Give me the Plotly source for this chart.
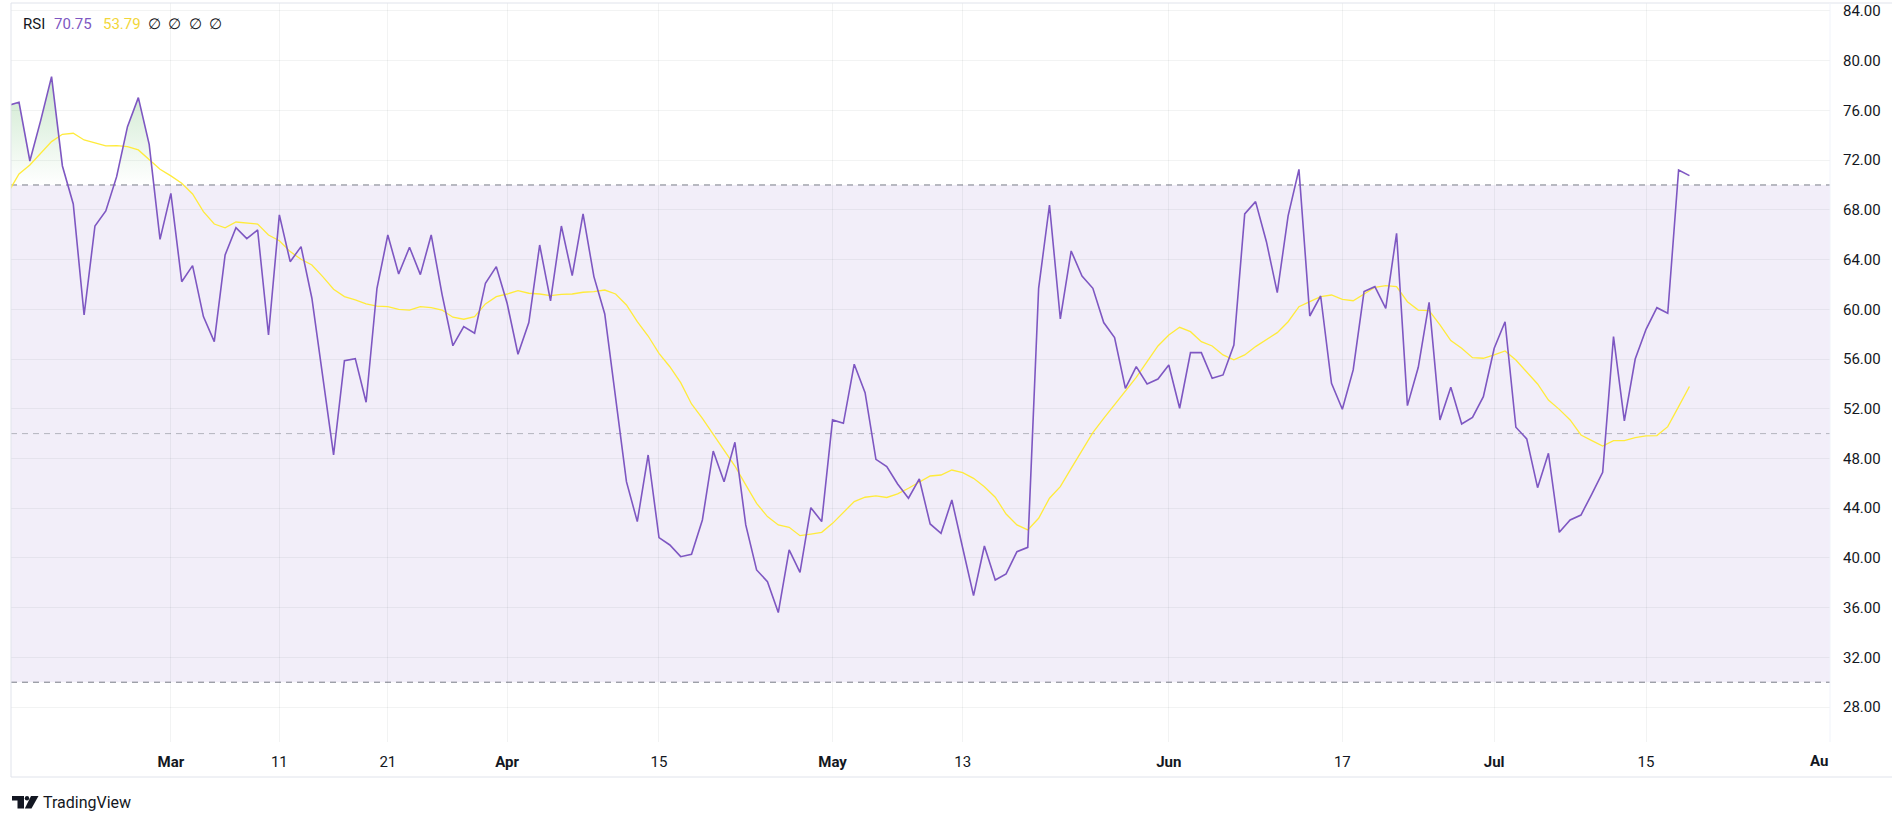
import pandas as pd
import plotly.graph_objects as go

# ---------------- data ----------------
start_date = "2024-02-15"
end_date = "2024-07-19"

rsi = [
    # Feb 15 - Feb 29
    76.4, 76.65, 71.93, 75.2, 78.72, 71.53, 68.47, 59.54, 66.7, 67.91, 70.67, 74.69, 77.03, 73.27, 65.63,
    # Mar
    69.33, 62.22, 63.51, 59.41, 57.4, 64.37, 66.57, 65.68, 66.38, 57.93, 67.59, 63.83, 65.04, 60.89, 54.8,
    48.28, 55.87, 56.03, 52.52, 61.69, 65.98, 62.84, 64.99, 62.79, 65.98, 61.2, 57.07, 58.6, 58.07, 62.1, 63.43,
    # Apr
    60.48, 56.38, 58.93, 65.17, 60.67, 66.7, 62.71, 67.67, 62.63, 59.62, 52.97, 46.13, 42.92, 48.28, 41.63,
    41.04, 40.1, 40.29, 43.05, 48.6, 46.13, 49.3, 42.65, 39.03, 38.09, 35.6, 40.64, 38.84, 44.04, 42.92,
    # May
    51.1, 50.83, 55.58, 53.29, 47.93, 47.34, 45.95, 44.8, 46.35, 42.73, 41.98, 44.66, 40.8, 36.96, 40.96,
    38.22, 38.71, 40.5, 40.85, 61.69, 68.39, 59.22, 64.69, 62.68, 61.69, 58.93, 57.72, 53.64, 55.39, 53.99, 54.39,
    # Jun
    55.52, 52.04, 56.51, 56.51, 54.45, 54.72, 57.13, 67.67, 68.66, 65.44, 61.34, 67.51, 71.26, 59.46, 61.07,
    54.05, 51.96, 55.12, 61.42, 61.82, 60.08, 66.11, 52.25, 55.33, 60.56, 51.1, 53.72, 50.77, 51.31, 52.97,
    # Jul 1 - Jul 19
    56.86, 59.0, 50.51, 49.57, 45.65, 48.42, 42.06, 43.05, 43.45, 45.14, 46.89, 57.8, 51.02, 56.0, 58.39,
    60.13, 59.68, 71.21, 70.75,
]

rsi_ma = [
    # Feb 15 - Feb 29
    69.4, 70.89, 71.61, 72.55, 73.49, 74.08, 74.16, 73.62, 73.41, 73.14, 73.17, 73.09, 72.82, 72.01, 71.26,
    # Mar
    70.73, 70.14, 69.28, 67.85, 66.86, 66.56, 67.02, 66.97, 66.86, 65.98, 65.52, 64.64, 64.02, 63.56, 62.63,
    61.61, 61.02, 60.75, 60.43, 60.26, 60.21, 60.0, 59.94, 60.21, 60.13, 59.94, 59.36, 59.2, 59.41, 60.43, 61.02,
    # Apr
    61.23, 61.5, 61.29, 61.23, 61.1, 61.2, 61.23, 61.37, 61.42, 61.55, 61.23, 60.35, 59.0, 57.85, 56.46,
    55.38, 54.1, 52.38, 51.23, 49.97, 48.68, 47.39, 45.87, 44.39, 43.32, 42.65, 42.46, 41.79, 41.92, 42.06,
    # May
    42.78, 43.64, 44.53, 44.88, 44.99, 44.86, 45.15, 45.6, 46.13, 46.59, 46.67, 47.07, 46.86, 46.4, 45.73,
    44.88, 43.53, 42.65, 42.25, 43.19, 44.8, 45.73, 47.2, 48.63, 50.08, 51.23, 52.3, 53.37, 54.53, 55.79, 57.05,
    # Jun
    57.93, 58.55, 58.2, 57.4, 57.05, 56.33, 55.93, 56.33, 57.0, 57.59, 58.12, 59.0, 60.21, 60.61, 61.02,
    61.15, 60.8, 60.69, 61.23, 61.77, 61.9, 61.82, 60.61, 59.94, 59.89, 58.74, 57.48, 56.86, 56.11, 56.06,
    # Jul 1 - Jul 19
    56.33, 56.65, 55.92, 54.98, 53.99, 52.7, 51.95, 51.1, 49.89, 49.44, 49.0, 49.44, 49.44, 49.68, 49.81,
    49.84, 50.56, 52.17, 53.79,
]

x_tick_dates = ["2024-03-01", "2024-03-11", "2024-03-21", "2024-04-01", "2024-04-15", "2024-05-01",
                "2024-05-13", "2024-06-01", "2024-06-17", "2024-07-01", "2024-07-15"]
x_tick_labels = ["Mar", "11", "21", "Apr", "15", "May", "13", "Jun", "17", "Jul", "15"]
month_labels = {"Mar", "Apr", "May", "Jun", "Jul"}
y_tick_values = [28, 32, 36, 40, 44, 48, 52, 56, 60, 64, 68, 72, 76, 80, 84]

overbought = 70
middle = 50
oversold = 30

# ---------------- styling ----------------
W, H = 1892, 818
PL, PR, PT, PB = 11, 1830, 3, 742          # pane edges in pixels
RSI_COLOR = "#7E57C2"
MA_COLOR = "#FFEB3B"
TEXT = "#131722"
GRID = "rgba(42,46,57,0.06)"
FRAME = "#E0E3EB"
FONT = "Roboto, 'Trebuchet MS', sans-serif"


def px(x):
    return (x - PL) / (PR - PL)


def py(y):
    return (PB - y) / (PB - PT)


dates = pd.date_range(start_date, end_date, freq="D")
assert len(dates) == len(rsi) == len(rsi_ma), (len(dates), len(rsi), len(rsi_ma))

# overbought fill region (RSI above 70), with crossing points
ob_x, ob_y = [], []
for i in range(len(rsi)):
    ob_x.append(dates[i])
    ob_y.append(max(rsi[i], overbought))
    if i < len(rsi) - 1 and (rsi[i] - overbought) * (rsi[i + 1] - overbought) < 0:
        f = (overbought - rsi[i]) / (rsi[i + 1] - rsi[i])
        ob_x.append(dates[i] + (dates[i + 1] - dates[i]) * f)
        ob_y.append(overbought)

fig = go.Figure()

fig.add_trace(go.Scatter(x=ob_x, y=[overbought] * len(ob_x), mode="lines",
                         line=dict(width=0, color="rgba(0,0,0,0)"), hoverinfo="skip", showlegend=False))
fig.add_trace(go.Scatter(x=ob_x, y=ob_y, mode="lines", fill="tonexty",
                         fillgradient=dict(type="vertical", start=overbought, stop=100,
                                           colorscale=[[0, "rgba(76,175,80,0)"], [1, "rgba(76,175,80,1)"]]),
                         line=dict(width=0, color="rgba(0,0,0,0)"), hoverinfo="skip", showlegend=False))

fig.add_trace(go.Scatter(x=dates, y=rsi_ma, mode="lines", line=dict(color=MA_COLOR, width=1.3),
                         name="RSI-based MA", showlegend=False))
fig.add_trace(go.Scatter(x=dates, y=rsi, mode="lines", line=dict(color=RSI_COLOR, width=1.6),
                         name="RSI", showlegend=False))

shapes = [
    # band
    dict(type="rect", xref="paper", yref="y", x0=0, x1=1, y0=oversold, y1=overbought,
         fillcolor="rgba(126,87,194,0.1)", line=dict(width=0), layer="below"),
    dict(type="line", xref="paper", yref="y", x0=0, x1=1, y0=overbought, y1=overbought,
         line=dict(color="#787B86", width=1, dash="6px,5px"), layer="below"),
    dict(type="line", xref="paper", yref="y", x0=0, x1=1, y0=middle, y1=middle,
         line=dict(color="rgba(120,123,134,0.5)", width=1, dash="6px,5px"), layer="below"),
    dict(type="line", xref="paper", yref="y", x0=0, x1=1, y0=oversold, y1=oversold,
         line=dict(color="#787B86", width=1, dash="6px,5px"), layer="below"),
    # frame
    dict(type="line", xref="paper", yref="paper", x0=0, x1=px(W), y0=py(PT), y1=py(PT),
         line=dict(color=FRAME, width=1)),
    dict(type="line", xref="paper", yref="paper", x0=0, x1=0, y0=py(777), y1=py(PT),
         line=dict(color=FRAME, width=1)),
    dict(type="line", xref="paper", yref="paper", x0=0, x1=px(W), y0=py(777), y1=py(777),
         line=dict(color=FRAME, width=1)),
    dict(type="line", xref="paper", yref="paper", x0=1, x1=1, y0=0, y1=1,
         line=dict(color="#F0F3FA", width=1)),
]

# TradingView logo (decoration)
def poly(points):
    return "M " + " L ".join(f"{px(a)},{py(b)}" for a, b in points) + " Z"

shapes += [
    dict(type="path", xref="paper", yref="paper", path=poly([(12, 796), (24, 796), (24, 808.5), (17.5, 808.5), (17.5, 800.5), (12, 800.5)]),
         fillcolor=TEXT, line=dict(width=0)),
    dict(type="circle", xref="paper", yref="paper", x0=px(24.8), x1=px(29.2), y0=py(800.5), y1=py(796),
         fillcolor=TEXT, line=dict(width=0)),
    dict(type="path", xref="paper", yref="paper", path=poly([(31, 796), (38.5, 796), (31.5, 808.5), (24.8, 808.5)]),
         fillcolor=TEXT, line=dict(width=0)),
]

annotations = [
    dict(xref="paper", yref="paper", x=px(21), y=py(24), xanchor="left", yanchor="middle",
         text="RSI", showarrow=False, font=dict(family=FONT, size=15, color=TEXT)),
    dict(xref="paper", yref="paper", x=px(52), y=py(24), xanchor="left", yanchor="middle",
         text=f"{rsi[-1]:.2f}", showarrow=False, font=dict(family=FONT, size=15, color=RSI_COLOR)),
    dict(xref="paper", yref="paper", x=px(101), y=py(24), xanchor="left", yanchor="middle",
         text=f"{rsi_ma[-1]:.2f}", showarrow=False, font=dict(family=FONT, size=15, color="#F2D63A")),
]
for k, xp in enumerate([154.5, 174.5, 195, 215]):
    annotations.append(dict(xref="paper", yref="paper", x=px(xp), y=py(24), xanchor="center", yanchor="middle",
                            text="∅", showarrow=False, font=dict(family=FONT, size=15, color=TEXT)))
annotations += [
    dict(xref="paper", yref="paper", x=1, y=py(761), xanchor="right", yanchor="middle",
         text="<b>Au</b>", showarrow=False, font=dict(family=FONT, size=15, color=TEXT)),
    dict(xref="paper", yref="paper", x=px(41), y=py(802.5), xanchor="left", yanchor="middle",
         text="TradingView", showarrow=False, font=dict(family=FONT, size=16, color=TEXT)),
]

fig.update_layout(
    width=W, height=H,
    margin=dict(l=PL, r=W - PR, t=PT, b=H - PB, pad=0),
    paper_bgcolor="white", plot_bgcolor="white",
    showlegend=False,
    shapes=shapes, annotations=annotations,
    xaxis=dict(type="date", range=["2024-02-15 06:15", "2024-07-31 23:00"],
               tickvals=x_tick_dates,
               ticktext=[f"<b>{t}</b>" if t in month_labels else t for t in x_tick_labels],
               showgrid=True, gridcolor=GRID, gridwidth=1, zeroline=False, showline=False,
               ticks="", ticklabelstandoff=9,
               tickfont=dict(family=FONT, size=15, color=TEXT), fixedrange=True),
    yaxis=dict(side="right", range=[25.19, 84.64], tickvals=y_tick_values,
               ticktext=[f"{v:.2f}" for v in y_tick_values],
               showgrid=True, gridcolor=GRID, gridwidth=1, zeroline=False, showline=False,
               ticks="", ticklabelstandoff=12,
               tickfont=dict(family=FONT, size=15, color=TEXT), fixedrange=True),
)

fig.write_html("out.html", config={"displayModeBar": False})
